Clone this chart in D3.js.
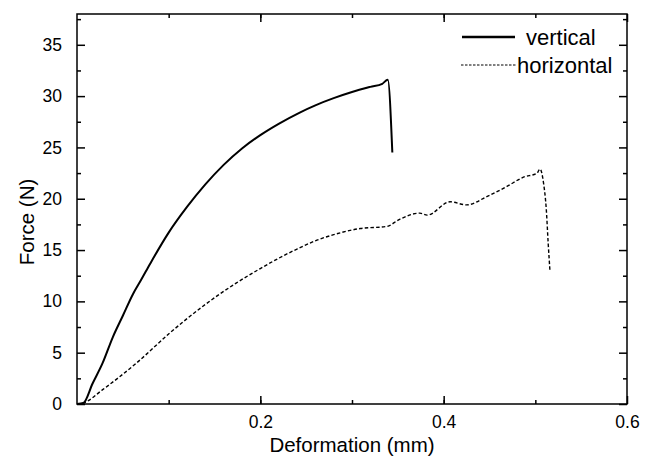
<!DOCTYPE html>
<html>
<head>
<meta charset="utf-8">
<script src="https://cdn.jsdelivr.net/npm/d3@7"></script>
<style>
  body { margin: 0; background: #fff; }
  text { font-family: "Liberation Sans", Arial, sans-serif; fill: #000; }
</style>
</head>
<body>
<svg id="chart" width="650" height="460"></svg>
<script>
// ---- data ----
const verticalX = [0, 0.007, 0.017, 0.028, 0.039, 0.050, 0.061, 0.070, 0.080, 0.100, 0.120, 0.140, 0.160, 0.180, 0.200, 0.220, 0.243, 0.260, 0.280, 0.300, 0.320, 0.333, 0.339, 0.344];
const verticalF = [0, 0.1, 2.0, 4.0, 6.5, 8.6, 10.7, 12.1, 13.7, 16.7, 19.2, 21.4, 23.3, 24.9, 26.2, 27.3, 28.4, 29.1, 29.8, 30.4, 30.9, 31.2, 31.6, 24.5];
const horizontalX = [0, 0.007, 0.028, 0.065, 0.101, 0.137, 0.174, 0.200, 0.220, 0.240, 0.260, 0.280, 0.309, 0.338, 0.352, 0.374, 0.382, 0.407, 0.425, 0.447, 0.469, 0.487, 0.502, 0.505, 0.509, 0.512, 0.514, 0.516];
const horizontalF = [0, 0.1, 1.4, 4.0, 6.9, 9.5, 11.8, 13.2, 14.2, 15.1, 15.9, 16.5, 17.1, 17.3, 18.0, 18.6, 18.4, 19.7, 19.4, 20.2, 21.2, 22.1, 22.5, 22.9, 21.5, 18.9, 15.7, 12.9];
const xTickValues = [0.2, 0.4, 0.6];
const xMinorValues = [0.1, 0.2, 0.3, 0.4, 0.5];
const yTickValues = [0, 5, 10, 15, 20, 25, 30, 35];
const yMinorValues = [2.5, 7.5, 12.5, 17.5, 22.5, 27.5, 32.5, 37.5];
const seriesNames = ["vertical", "horizontal"];
const xTitle = "Deformation (mm)";
const yTitle = "Force (N)";

// ---- layout ----
const svg = d3.select("#chart");
const L = 77, R = 627, T = 14, B = 404;
const x = d3.scaleLinear().domain([0, 0.6]).range([L, R]);
const y = d3.scaleLinear().domain([0, 38]).range([B, T]);

const series = [
  { name: seriesNames[0], pts: verticalX.map((v, i) => [v, verticalF[i]]), width: 2, dash: null },
  { name: seriesNames[1], pts: horizontalX.map((v, i) => [v, horizontalF[i]]), width: 1.4, dash: "3.5,2.2" }
];

const line = d3.line().x(d => x(d[0])).y(d => y(d[1])).curve(d3.curveMonotoneX);

series.forEach(s => {
  svg.append("path")
    .attr("d", line(s.pts))
    .attr("fill", "none")
    .attr("stroke", "#000")
    .attr("stroke-width", s.width)
    .attr("stroke-linejoin", "round")
    .attr("stroke-dasharray", s.dash);
});

// ---- axes ----
const fmtX = d => String(d);
const bottomAxis = d3.axisBottom(x).tickValues(xTickValues).tickSize(-8).tickPadding(12).tickFormat(fmtX);
const bottomMinor = d3.axisBottom(x).tickValues(xMinorValues).tickSize(-4).tickFormat("");
const topAxis = d3.axisTop(x).tickValues(xTickValues).tickSize(-8).tickFormat("");
const topMinor = d3.axisTop(x).tickValues(xMinorValues).tickSize(-4).tickFormat("");
const leftAxis = d3.axisLeft(y).tickValues(yTickValues).tickSize(-8).tickPadding(15).tickFormat(d3.format("d"));
const leftMinor = d3.axisLeft(y).tickValues(yMinorValues).tickSize(-4).tickFormat("");
const rightAxis = d3.axisRight(y).tickValues(yTickValues).tickSize(-8).tickFormat("");
const rightMinor = d3.axisRight(y).tickValues(yMinorValues).tickSize(-4).tickFormat("");

function styleAxis(g) {
  g.select(".domain").remove();
  g.selectAll(".tick line").attr("stroke", "#000").attr("stroke-width", 1.5);
  g.selectAll(".tick text").attr("font-size", 17.5).attr("font-family", "Liberation Sans, Arial, sans-serif").attr("fill", "#000");
}
svg.append("g").attr("transform", `translate(0,${B})`).call(bottomMinor).call(styleAxis);
svg.append("g").attr("transform", `translate(0,${B})`).call(bottomAxis).call(styleAxis);
svg.append("g").attr("transform", `translate(0,${T})`).call(topMinor).call(styleAxis);
svg.append("g").attr("transform", `translate(0,${T})`).call(topAxis).call(styleAxis);
svg.append("g").attr("transform", `translate(${L},0)`).call(leftMinor).call(styleAxis);
svg.append("g").attr("transform", `translate(${L},0)`).call(leftAxis).call(styleAxis);
svg.append("g").attr("transform", `translate(${R},0)`).call(rightMinor).call(styleAxis);
svg.append("g").attr("transform", `translate(${R},0)`).call(rightAxis).call(styleAxis);

// frame
svg.append("rect")
  .attr("x", L).attr("y", T).attr("width", R - L).attr("height", B - T)
  .attr("fill", "none").attr("stroke", "#000").attr("stroke-width", 1.5);

// titles
svg.append("text")
  .attr("x", (L + R) / 2).attr("y", 452)
  .attr("text-anchor", "middle").attr("font-size", 20.5)
  .text(xTitle);
svg.append("text")
  .attr("transform", `translate(34,222) rotate(-90)`)
  .attr("text-anchor", "middle").attr("font-size", 20.5)
  .text(yTitle);

// legend
const legend = [
  { name: seriesNames[0], x1: 462, x2: 515, ly: 37, tx: 526, ty: 45, width: 2.5, dash: null },
  { name: seriesNames[1], x1: 461, x2: 517, ly: 65, tx: 517, ty: 73, width: 1, dash: "2.5,1.5" }
];
legend.forEach(l => {
  svg.append("line").attr("x1", l.x1).attr("x2", l.x2).attr("y1", l.ly).attr("y2", l.ly)
    .attr("stroke", "#000").attr("stroke-width", l.width).attr("stroke-dasharray", l.dash);
  svg.append("text").attr("x", l.tx).attr("y", l.ty).attr("font-size", 22).text(l.name);
});
</script>
</body>
</html>
